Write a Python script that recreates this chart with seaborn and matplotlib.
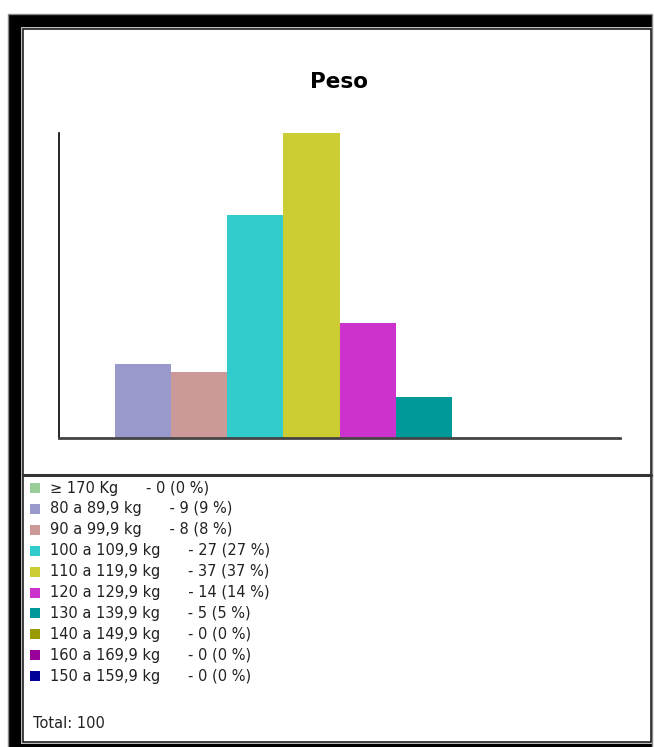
import matplotlib
matplotlib.use("Agg")
import matplotlib.pyplot as plt
from matplotlib.patches import Rectangle
from matplotlib.lines import Line2D
import seaborn as sns
import pandas as pd

# ---- data ----
title = "Peso"
categories = ["≥ 170 Kg", "80 a 89,9 kg", "90 a 99,9 kg", "100 a 109,9 kg",
              "110 a 119,9 kg", "120 a 129,9 kg", "130 a 139,9 kg",
              "140 a 149,9 kg", "160 a 169,9 kg", "150 a 159,9 kg"]
counts = [0, 9, 8, 27, 37, 14, 5, 0, 0, 0]
percents = [0, 9, 8, 27, 37, 14, 5, 0, 0, 0]
colors = ["#99cc99", "#9999cc", "#cc9999", "#33cccc", "#cccc33",
          "#cc33cc", "#009999", "#999900", "#990099", "#000099"]
total_label = "Total: 100"

W, H = 654, 747
DPI = 100
sns.set_theme(style="white")
plt.rcParams['font.family'] = ['DejaVu Sans']

fig = plt.figure(figsize=(W / DPI, H / DPI), dpi=DPI)
fig.patch.set_facecolor("white")


def fx(x):
    return x / W


def fy(y):
    return 1 - y / H


def prect(x0, y0, x1, y1, **kw):
    r = Rectangle((fx(x0), fy(y1)), fx(x1) - fx(x0), fy(y0) - fy(y1),
                  transform=fig.transFigure, **kw)
    fig.patches.append(r)
    return r


# frame
prect(8, 14, 652, 820, facecolor="black", edgecolor="#888888", linewidth=1.0, zorder=-3)
prect(21, 27, 652, 744, facecolor="#bbbbbb", edgecolor="none", zorder=-2.5)
prect(23, 29, 651, 742, facecolor="white", edgecolor="#222222", linewidth=1.2, zorder=-2)
fig.lines.append(Line2D([fx(23), fx(651)], [fy(475), fy(475)], transform=fig.transFigure,
                        color="#333333", linewidth=2.2, zorder=-1))

# axes
ax = fig.add_axes([fx(59), fy(438), fx(620) - fx(59), fy(133) - fy(438)])
ax.set_facecolor("none")
df = pd.DataFrame({"cat": categories, "n": counts})
sns.barplot(data=df, x="cat", y="n", hue="cat", palette=colors, order=categories,
            hue_order=categories, width=1.0, linewidth=0, saturation=1,
            legend=False, ax=ax)
ax.set_xlim(-0.5, len(categories) - 0.5)
ax.set_ylim(0, max(counts))
ax.set_xticks([])
ax.set_yticks([])
ax.set_xlabel("")
ax.set_ylabel("")
for s in ["top", "right"]:
    ax.spines[s].set_visible(False)
ax.spines["left"].set_color("black")
ax.spines["left"].set_linewidth(1.2)
ax.spines["bottom"].set_color("#444444")
ax.spines["bottom"].set_linewidth(2)

fig.text(fx(339), fy(82), title, ha="center", va="center", fontsize=15.5,
         fontweight="bold", color="black")

# legend
row0 = 488
step = 20.9
for i, (c, n, p, col) in enumerate(zip(categories, counts, percents, colors)):
    yc = row0 + i * step
    prect(30, yc - 5, 40, yc + 5, facecolor=col, edgecolor="none", zorder=1)
    fig.text(fx(50), fy(yc), f"{c}      - {n} ({p} %)", ha="left", va="center",
             fontsize=10.5, color="#222222")

fig.text(fx(33), fy(723), total_label, ha="left", va="center", fontsize=10.5, color="#222222")

fig.savefig("out.png", dpi=DPI)
